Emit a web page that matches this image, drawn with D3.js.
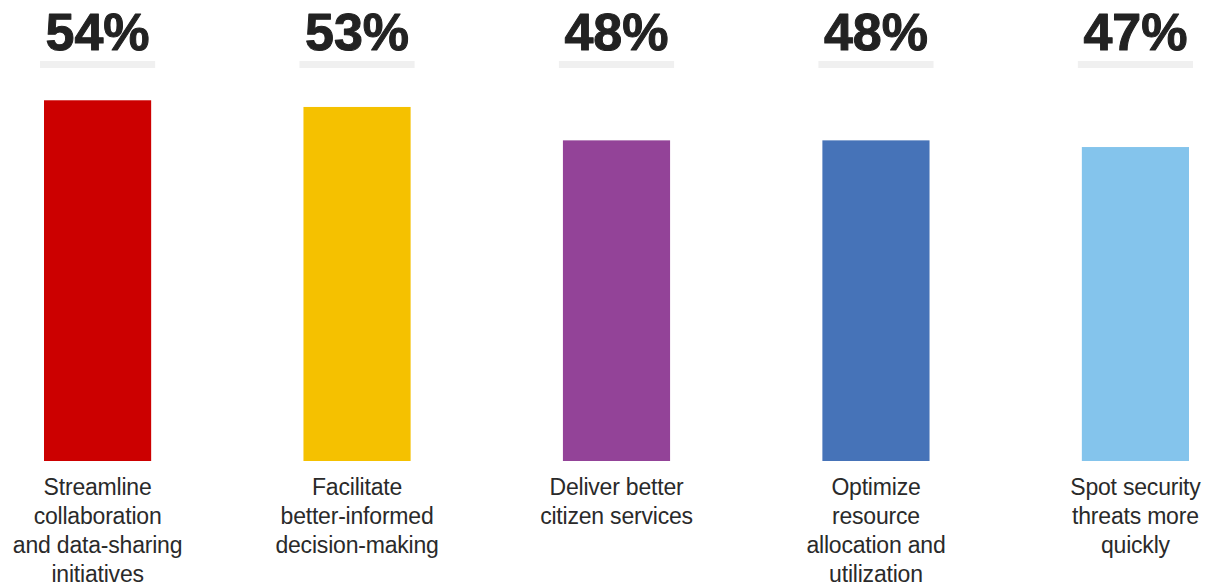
<!DOCTYPE html>
<html>
<head>
<meta charset="utf-8">
<script src="https://cdn.jsdelivr.net/npm/d3@7"></script>
<style>
  html, body { margin: 0; padding: 0; background: #ffffff; }
  svg { display: block; }
</style>
</head>
<body>
<svg id="chart" width="1209" height="586"></svg>
<script>
// Benefits of data sharing, share of respondents (%)
const categories = [
  "Streamline collaboration and data-sharing initiatives",
  "Facilitate better-informed decision-making",
  "Deliver better citizen services",
  "Optimize resource allocation and utilization",
  "Spot security threats more quickly"
];
const labelLines = [
  ["Streamline", "collaboration", "and data-sharing", "initiatives"],
  ["Facilitate", "better-informed", "decision-making"],
  ["Deliver better", "citizen services"],
  ["Optimize", "resource", "allocation and", "utilization"],
  ["Spot security", "threats more", "quickly"]
];
const values = [54, 53, 48, 48, 47];
const colors = ["#cc0000", "#f5c100", "#934398", "#4673b8", "#84c4ec"];

const svg = d3.select("#chart");

const x = d3.scaleBand()
  .domain(categories)
  .range([44, 1189])
  .paddingInner(0.587)
  .paddingOuter(0);

const baseY = 461;
const y = d3.scaleLinear()
  .domain([0, 100])
  .range([baseY, baseY - 668]);

const g = svg.append("g");

const items = g.selectAll("g.item")
  .data(categories.map((c, i) => ({ c, v: values[i], color: colors[i], lines: labelLines[i] })))
  .join("g")
  .attr("class", "item");

// value underline
items.append("rect")
  .attr("x", d => x(d.c) - 4)
  .attr("y", 61)
  .attr("width", x.bandwidth() + 8)
  .attr("height", 7)
  .attr("fill", "#f0f0f0");

// value label
items.append("text")
  .attr("x", d => x(d.c) + x.bandwidth() / 2)
  .attr("y", 50)
  .attr("text-anchor", "middle")
  .attr("font-family", "'Liberation Sans', Arial, sans-serif")
  .attr("font-weight", "bold")
  .attr("font-size", 52)
  .attr("fill", "#222222")
  .attr("stroke", "#222222")
  .attr("stroke-width", 1)
  .attr("stroke-linejoin", "round")
  .text(d => d.v + "%");

// bars
items.append("rect")
  .attr("x", d => x(d.c))
  .attr("y", d => y(d.v))
  .attr("width", x.bandwidth())
  .attr("height", d => y(0) - y(d.v))
  .attr("fill", d => d.color);

// category labels
items.append("text")
  .attr("text-anchor", "middle")
  .attr("font-family", "'Liberation Sans', Arial, sans-serif")
  .attr("font-size", 23)
  .attr("letter-spacing", "-0.2px")
  .attr("fill", "#2a2a2a")
  .each(function(d) {
    const t = d3.select(this);
    const cx = x(d.c) + x.bandwidth() / 2;
    d.lines.forEach((line, j) => {
      t.append("tspan")
        .attr("x", cx)
        .attr("y", 495 + j * 29)
        .text(line);
    });
  });
</script>
</body>
</html>
